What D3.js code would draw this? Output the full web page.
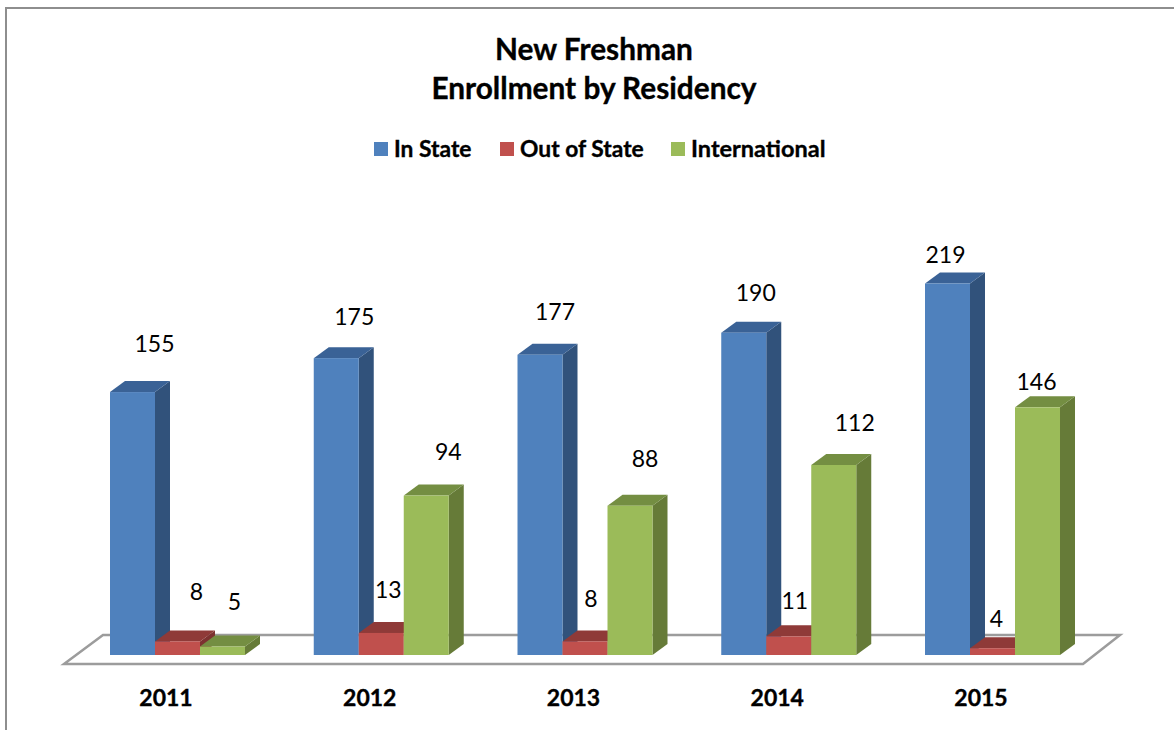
<!DOCTYPE html>
<html><head><meta charset="utf-8">
<script src="https://cdn.jsdelivr.net/npm/d3@7/dist/d3.min.js"></script>
<style>html,body{margin:0;padding:0;background:#fff}svg{display:block}text{font-family:Lato,"Open Sans",sans-serif;fill:#000}.b{font-weight:700;stroke:#000;stroke-width:.35px}</style>
</head><body><svg id="c" width="1174" height="730"></svg>
<script>
const years = ["2011","2012","2013","2014","2015"];
const seriesNames = ["In State","Out of State","International"];
const inState = [155,175,177,190,219];
const outOfState = [8,13,8,11,4];
const international = [5,94,88,112,146];
const seriesValues = [inState,outOfState,international];
const titleLines = ["New Freshman","Enrollment by Residency"];

// styling / layout, kept apart from the data
const front = ["#4f81bd","#c0504d","#9bbb59"];
const topFace = ["#3a6296","#8f3a38","#748e42"];
const sideFace = ["#31527b","#7d3230","#667b38"];
const labelNudge = [
  [[22,-48],[18,-41],[15,-43],[12,-40],[-2,-29]],
  [[19,-50],[7,-43],[6,-43],[6,-36],[4,-29]],
  [[12,-45],[22,-44],[15,-47],[21,-42],[-1,-26]]
];
const dx = 15, dy = 11;

const svg = d3.select("#c");
const y = d3.scaleLinear().domain([0,219]).range([655,283.5]);
const x = d3.scaleBand().domain(years).range([110,1060]).paddingInner(1-135/203.75).paddingOuter(0);
const xs = d3.scaleBand().domain(seriesNames).range([0,x.bandwidth()]);

// frame
svg.append("path").attr("d","M6,730V8H1174").attr("fill","none").attr("stroke","#8e8e8e").attr("stroke-width",2);

// floor
svg.append("path").attr("d","M64,664L103,635H1120L1083,664Z").attr("fill","#fff").attr("stroke","#9c9c9c").attr("stroke-width",2.5).attr("stroke-linejoin","miter");

// bars
const poly = pts => "M"+pts.map(p=>p.join(",")).join("L")+"Z";
years.forEach((yr,i)=>{
  const g = svg.append("g");
  seriesNames.forEach((s,k)=>{
    const v = seriesValues[k][i];
    const x0 = x(yr)+xs(s), w = xs.bandwidth(), t = y(v), b = y(0);
    g.append("path").attr("d",poly([[x0+w,t],[x0+w+dx,t-dy],[x0+w+dx,b-dy],[x0+w,b]])).attr("fill",sideFace[k]);
    g.append("path").attr("d",poly([[x0,t],[x0+dx,t-dy],[x0+w+dx,t-dy],[x0+w,t]])).attr("fill",topFace[k]);
    g.append("rect").attr("x",x0).attr("y",t).attr("width",w).attr("height",b-t).attr("fill",front[k]);
  });
});

// value labels
seriesNames.forEach((s,k)=>{
  years.forEach((yr,i)=>{
    const v = seriesValues[k][i];
    svg.append("text")
      .attr("x",x(yr)+xs(s)+xs.bandwidth()/2+labelNudge[k][i][0])
      .attr("y",y(v)+labelNudge[k][i][1])
      .attr("dy","0.36em").attr("text-anchor","middle")
      .style("font-size","23px").text(v);
  });
});

// x axis
const axis = svg.append("g").attr("transform","translate(-11.5,698)").call(d3.axisBottom(x).tickSize(0).tickPadding(0));
axis.select(".domain").remove();
axis.selectAll("text").attr("class","b").attr("dy","0.36em").attr("y",0).style("font-size","23px").style("font-family","Lato,sans-serif").attr("fill","#000");

// title
svg.append("g").selectAll("text").data(titleLines).join("text").attr("class","b")
  .attr("x",594).attr("y",(d,i)=>60+i*38.5).attr("text-anchor","middle")
  .style("font-size","29.8px").text(d=>d);

// legend
const lx = [374,500,671];
const legendSize = ["22.8px","22.8px","23.5px"];
seriesNames.forEach((s,k)=>{
  svg.append("rect").attr("x",lx[k]).attr("y",142).attr("width",14).attr("height",14).attr("fill",front[k]);
  svg.append("text").attr("class","b").attr("x",lx[k]+20).attr("y",156.5).style("font-size",legendSize[k]).text(s);
});
</script></body></html>
